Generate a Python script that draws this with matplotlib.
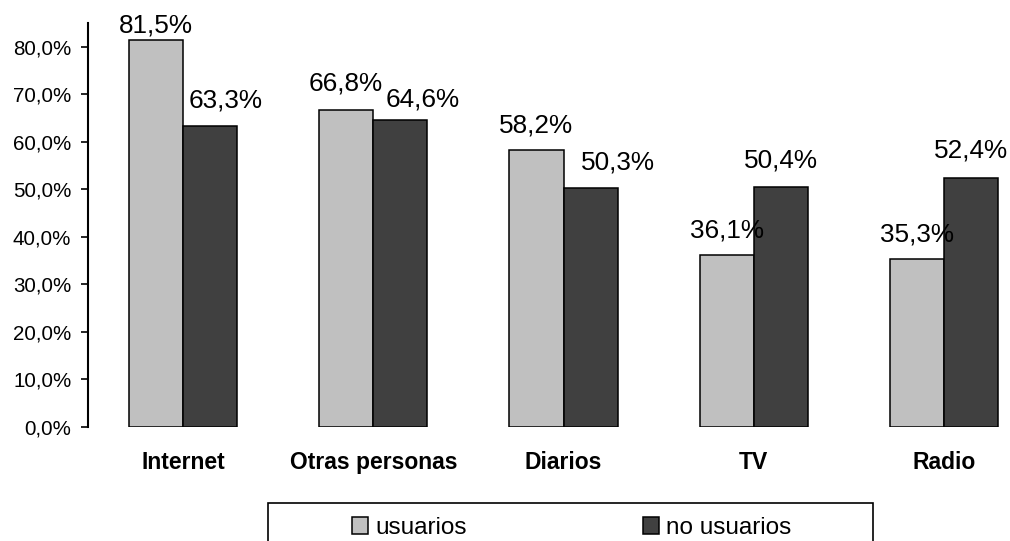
import numpy as np
import matplotlib.pyplot as plt
import matplotlib.patches as mpatches

# Datos del grafico
categorias = ['Internet', 'Otras personas', 'Diarios', 'TV', 'Radio']
usuarios = [81.5, 66.8, 58.2, 36.1, 35.3]
no_usuarios = [63.3, 64.6, 50.3, 50.4, 52.4]
series = ['usuarios', 'no usuarios']
yticks = [0, 10, 20, 30, 40, 50, 60, 70, 80]

plt.rcParams['font.family'] = ['Liberation Sans', 'DejaVu Sans']

W, H = 1010, 541
fig = plt.figure(figsize=(W / 100, H / 100), dpi=100)
# ejes: x desde 88 px, 5 categorias de ~190 px, 0% en y=427, 85% en y=23
ax = fig.add_axes([88 / W, (H - 427) / H, 951 / W, 404 / H])

x = np.arange(len(categorias))
ancho = 0.284
b1 = ax.bar(x - ancho / 2, usuarios, ancho, color='#c0c0c0', edgecolor='black', linewidth=1.1, label=series[0])
b2 = ax.bar(x + ancho / 2, no_usuarios, ancho, color='#404040', edgecolor='black', linewidth=1.1, label=series[1])

ax.set_xlim(-0.5, 4.5)
ax.set_ylim(0, 85)
ax.set_yticks(yticks)
ax.set_yticklabels([f'{v:.1f}%'.replace('.', ',') for v in yticks], fontsize=14.8)
ax.set_xticks(x)
ax.set_xticklabels(categorias, fontsize=16.5, fontweight='bold')

ax.spines['top'].set_visible(False)
ax.spines['right'].set_visible(False)
ax.spines['bottom'].set_visible(False)
ax.spines['left'].set_linewidth(1.5)
ax.tick_params(axis='y', direction='out', length=5, width=1.2, pad=7)
ax.tick_params(axis='x', length=0, pad=17)

# etiquetas de datos (desplazamiento en px: dx, separacion sobre la barra)
ajuste_u = [(0, 7), (-1, 19), (0, 18), (0, 18), (0, 18)]
ajuste_n = [(16, 19), (22, 13), (27, 18), (0, 20), (0, 20)]
for barras, valores, ajuste in [(b1, usuarios, ajuste_u), (b2, no_usuarios, ajuste_n)]:
    for rect, v, (dx, dy) in zip(barras, valores, ajuste):
        ax.annotate(f'{v:.1f}%'.replace('.', ','),
                    (rect.get_x() + rect.get_width() / 2, v),
                    xytext=(dx * 0.72, dy * 0.72), textcoords='offset points',
                    ha='center', va='baseline', fontsize=18.8, annotation_clip=False)

# caja de la leyenda (se corta en el borde inferior)
caja = mpatches.Rectangle((268 / W, -19 / H), 605 / W, (H - 503 + 19) / H,
                          transform=fig.transFigure, fill=False, edgecolor='black',
                          linewidth=1.2, clip_on=False)
fig.add_artist(caja)

fig.legend(handles=[b1, b2], labels=series, loc='center left',
           bbox_to_anchor=(352 / W, (H - 528) / H), ncol=2, frameon=False,
           fontsize=17.5, borderpad=0, borderaxespad=0,
           handlelength=0.66, handleheight=0.66, handletextpad=0.3, columnspacing=7.25)

plt.savefig('out.png', dpi=100)
